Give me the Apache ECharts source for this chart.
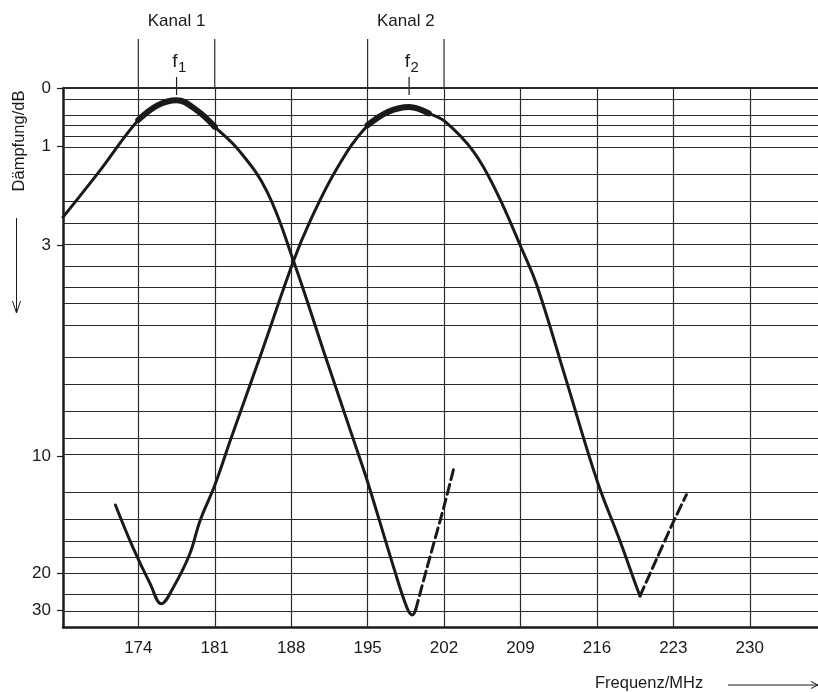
<!DOCTYPE html>
<html><head><meta charset="utf-8">
<script src="https://cdn.jsdelivr.net/npm/echarts@6/dist/echarts.min.js"></script>
<style>html,body{margin:0;padding:0;background:#fff}#c{width:818px;height:692px}</style>
</head><body><div id="c"></div>
<script>
// ---- data ----
const xTicks = [174, 181, 188, 195, 202, 209, 216, 223, 230];
const yLabelDb = [0, 1, 3, 10, 20, 30];
const gridDb = [0, 0.2, 0.4, 0.6, 0.8, 1, 1.5, 2, 2.5, 3, 3.5, 4, 4.5, 5, 6, 7, 8, 9, 10, 12, 14, 16, 18, 20, 25, 30];

const channelNames = ['Kanal 1', 'Kanal 2'];
const channelLo = [174, 195];
const channelHi = [181, 202];
const carrierFreq = [177.5, 198.8];
const carrierSub = ['1', '2'];

// Kanal 1 filter response (MHz, dB)
const k1Freq = [167.1, 170.5, 174.0, 175.8, 177.5, 179.3, 181.0, 183.3, 185.8, 188.2, 191.0, 193.85, 195.0, 197.4, 198.6, 199.1, 199.4];
const k1Db   = [2.38, 1.44, 0.53, 0.28, 0.20, 0.36, 0.65, 1.09, 1.86, 3.35, 5.85, 9.4, 11.4, 19.2, 28.9, 33.0, 30.0];
const k1DashFreq = [199.4, 200.4, 202.0, 202.9];
const k1DashDb   = [30.0, 19.4, 13.0, 10.6];

// Kanal 2 filter response (MHz, dB)
const k2Freq = [171.9, 173.5, 175.1, 176.1, 177.2, 178.7, 179.65, 181.0, 182.5, 185.4, 188.2, 189.7, 192.2, 195.0, 196.9, 198.8, 200.6, 202.1, 204.7, 206.8, 209.1, 210.5, 213.2, 216.0, 218.1, 219.65, 219.95];
const k2Db   = [12.9, 16.6, 22.0, 27.3, 22.7, 17.4, 14.1, 11.6, 9.1, 5.75, 3.37, 2.48, 1.40, 0.62, 0.39, 0.31, 0.42, 0.56, 1.09, 1.86, 3.07, 3.96, 6.8, 11.3, 15.9, 22.7, 24.8];
const k2DashFreq = [219.95, 221.1, 223.0, 224.2];
const k2DashDb   = [24.8, 19.2, 14.2, 12.2];

// ---- helpers ----
const toV = d => 1 - Math.pow(10, -d / 20);          // attenuation scale of the chart paper
const fromV = v => -20 * Math.log10(1 - v);
const pts = (fs, ds) => fs.map((f, i) => [f, toV(ds[i])]);
const band = (fs, ds, lo, hi) => pts(fs, ds).filter(p => p[0] >= lo - 1e-9 && p[0] <= hi + 1e-9);

const FONT = '"Liberation Sans", Arial, sans-serif';
const INK = '#1a1a1a';
const GRIDC = '#2b2b2b';

const chart = echarts.init(document.getElementById('c'), null, {renderer: 'canvas'});

const curve = (data, width, dashed, smooth) => ({
  type: 'line', data, showSymbol: false, smooth: smooth,
  lineStyle: {color: INK, width: width, type: dashed ? [10, 5] : 'solid', cap: 'round', join: 'round'},
  silent: true, animation: false, z: 5
});

const gridMark = gridDb.map(d => ({yAxis: toV(d), lineStyle: {width: d === 0 ? 2 : 1.2}}))
  .concat(xTicks.map(x => ({xAxis: x})));

chart.setOption({
  animation: false,
  backgroundColor: '#fff',
  grid: {left: 63, top: 88, width: 755, height: 539, outerBoundsMode: 'none', containLabel: false},
  xAxis: {
    type: 'value', min: 167.1, max: 236.25,
    axisLine: {show: true, onZero: false, lineStyle: {color: INK, width: 2.5}},
    axisTick: {show: false},
    splitLine: {show: false},
    axisLabel: {customValues: xTicks, color: INK, fontSize: 17, fontFamily: FONT, margin: 13}
  },
  yAxis: {
    type: 'value', min: 0, max: 1, inverse: true,
    axisLine: {show: true, onZero: false, lineStyle: {color: INK, width: 2.5}},
    axisTick: {show: true, length: 6, customValues: yLabelDb.map(toV), lineStyle: {color: INK, width: 1.2}},
    splitLine: {show: false},
    axisLabel: {customValues: yLabelDb.map(toV), color: INK, fontSize: 17, fontFamily: FONT, margin: 12,
      formatter: v => String(Math.round(fromV(v)) || 0)}
  },
  series: [
    {type: 'line', data: [], silent: true, animation: false, z: 1,
     markLine: {silent: true, animation: false, symbol: ['none', 'none'], label: {show: false},
       lineStyle: {color: GRIDC, width: 1.2, type: 'solid'}, emphasis: {disabled: true}, data: gridMark}},
    curve(pts(k1Freq, k1Db), 3, false, 0.4),
    curve(band(k1Freq, k1Db, channelLo[0], channelHi[0]), 6, false, 0.4),
    curve(pts(k1DashFreq, k1DashDb), 3, true, 0.2),
    curve(pts(k2Freq, k2Db), 3, false, 0.4),
    curve(band(k2Freq, k2Db, channelLo[1], channelHi[1]), 6, false, 0.4),
    curve(pts(k2DashFreq, k2DashDb), 3, true, 0.2)
  ]
});

// ---- annotations positioned through the x axis scale ----
const px = f => chart.convertToPixel({xAxisIndex: 0}, f);
const g = [];
channelNames.forEach((name, i) => {
  [channelLo[i], channelHi[i]].forEach(f => {
    g.push({type: 'line', shape: {x1: px(f), y1: 39, x2: px(f), y2: 88}, style: {stroke: GRIDC, lineWidth: 1.2}, silent: true});
  });
  g.push({type: 'text', x: px((channelLo[i] + channelHi[i]) / 2), y: 21,
    style: {text: name, font: '17px ' + FONT, fill: INK, align: 'center', verticalAlign: 'middle'}, silent: true});
  const cx = px(carrierFreq[i]);
  g.push({type: 'line', shape: {x1: cx, y1: 77, x2: cx, y2: 95}, style: {stroke: INK, lineWidth: 1.2}, silent: true});
  g.push({type: 'text', x: cx + 1, y: 62, style: {text: 'f', font: '19px ' + FONT, fill: INK, align: 'right', verticalAlign: 'middle'}, silent: true});
  g.push({type: 'text', x: cx + 1.5, y: 68, style: {text: carrierSub[i], font: '15px ' + FONT, fill: INK, align: 'left', verticalAlign: 'middle'}, silent: true});
});
// y axis title + arrow
g.push({type: 'text', x: 19, y: 141, rotation: Math.PI / 2,
  style: {text: 'Dämpfung/dB', font: '16.5px ' + FONT, fill: INK, align: 'center', verticalAlign: 'middle'}, silent: true});
g.push({type: 'line', shape: {x1: 16.5, y1: 218, x2: 16.5, y2: 312}, style: {stroke: INK, lineWidth: 1}, silent: true});
g.push({type: 'polyline', shape: {points: [[12.5, 301], [16.5, 313], [20.5, 301]]}, style: {stroke: INK, lineWidth: 1, fill: null}, silent: true});
// x axis title + arrow
g.push({type: 'text', x: 595, y: 683,
  style: {text: 'Frequenz/MHz', font: '16.5px ' + FONT, fill: INK, align: 'left', verticalAlign: 'middle'}, silent: true});
g.push({type: 'line', shape: {x1: 728, y1: 685, x2: 818, y2: 685}, style: {stroke: INK, lineWidth: 1}, silent: true});
g.push({type: 'polyline', shape: {points: [[811, 681.5], [818, 685], [811, 688.5]]}, style: {stroke: INK, lineWidth: 1, fill: null}, silent: true});

chart.setOption({graphic: {elements: g}});
</script>
</body></html>
